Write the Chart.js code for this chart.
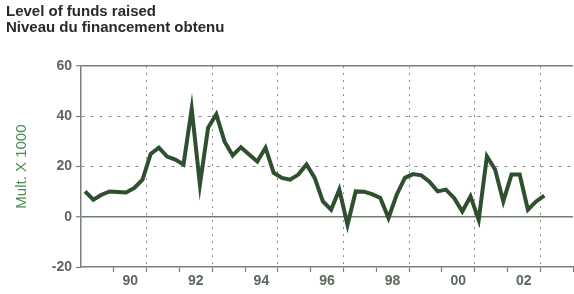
<!DOCTYPE html>
<html><head><meta charset="utf-8">
<script src="https://cdn.jsdelivr.net/npm/chart.js@4"></script>
<style>html,body{margin:0;padding:0;background:#fff}#wrap{width:574px;height:294px;position:relative}</style>
</head><body><div id="wrap"><canvas id="c"></canvas></div>
<script>
const titleLines = ['Level of funds raised', 'Niveau du financement obtenu'];
const yAxisTitle = 'Mult. X 1000';
const quarters = [
  '1989Q1','1989Q2','1989Q3','1989Q4','1990Q1','1990Q2','1990Q3','1990Q4',
  '1991Q1','1991Q2','1991Q3','1991Q4','1992Q1','1992Q2','1992Q3','1992Q4',
  '1993Q1','1993Q2','1993Q3','1993Q4','1994Q1','1994Q2','1994Q3','1994Q4',
  '1995Q1','1995Q2','1995Q3','1995Q4','1996Q1','1996Q2','1996Q3','1996Q4',
  '1997Q1','1997Q2','1997Q3','1997Q4','1998Q1','1998Q2','1998Q3','1998Q4',
  '1999Q1','1999Q2','1999Q3','1999Q4','2000Q1','2000Q2','2000Q3','2000Q4',
  '2001Q1','2001Q2','2001Q3','2001Q4','2002Q1','2002Q2','2002Q3','2002Q4',
  '2003Q1'
];
const fundsRaised = [
  10.1, 6.8, 8.8, 10.1, 9.9, 9.7, 11.5, 14.8,
  25.0, 27.5, 24.0, 22.8, 20.8, 43.0, 12.8, 35.5,
  40.8, 30.0, 24.4, 27.7, 24.8, 22.0, 27.5, 17.5,
  15.5, 14.8, 16.8, 20.8, 15.5, 6.1, 2.8, 10.8,
  -3.2, 10.1, 10.0, 9.0, 7.5, -0.5, 8.8, 15.5,
  17.0, 16.5, 14.0, 10.1, 10.8, 7.5, 2.1, 8.1,
  -1.2, 24.1, 18.8, 6.1, 16.8, 16.8, 2.8, 6.1,
  8.4
];
const labelYears = [1990, 1992, 1994, 1996, 1998, 2000, 2002];
const yearLabels = ['90', '92', '94', '96', '98', '00', '02'];
const gridYears = [1991, 1993, 1995, 1997, 1999, 2001, 2003];
const xRange = [1989, 2004];
const yTicks = [-20, 0, 20, 40, 60];

function quarterPos(q) {
  const yr = parseInt(q.slice(0, 4), 10);
  const qn = parseInt(q.slice(5), 10);
  return yr + (qn - 0.5) / 4;
}
const points = quarters.map((q, i) => ({ x: quarterPos(q), y: fundsRaised[i] }));

const FONT = "'Liberation Sans', Arial, sans-serif";
const TICK_COLOR = '#5d685d';
const AXIS_COLOR = '#7a807a';

new Chart(document.getElementById('c'), {
  type: 'line',
  data: {
    datasets: [{
      data: points,
      borderColor: '#2f4f2f',
      borderWidth: 4,
      pointRadius: 0,
      tension: 0,
      fill: false
    }]
  },
  options: {
    responsive: true,
    maintainAspectRatio: false,
    animation: false,
    layout: { padding: { left: 6, right: 0, top: 0, bottom: 0 } },
    plugins: {
      legend: { display: false },
      tooltip: { enabled: false },
      title: {
        display: true,
        text: titleLines,
        align: 'start',
        color: '#2a2a2a',
        font: { family: FONT, size: 15, weight: 'bold', lineHeight: 1.07 },
        padding: { top: 4, bottom: 30 }
      }
    },
    scales: {
      x: {
        type: 'linear',
        min: xRange[0],
        max: xRange[1],
        afterBuildTicks: (scale) => {
          const t = [];
          for (let v = xRange[0]; v <= xRange[1] + 1e-9; v += 0.5) t.push({ value: v });
          scale.ticks = t;
        },
        afterFit: (scale) => { scale.height = 27; },
        ticks: {
          autoSkip: false,
          maxRotation: 0,
          padding: 1,
          color: TICK_COLOR,
          font: { family: FONT, size: 14, weight: 'bold' },
          callback: (value) => {
            const i = labelYears.indexOf(value - 0.5);
            return i >= 0 ? yearLabels[i] : '';
          }
        },
        grid: {
          drawTicks: true,
          tickLength: 5,
          lineWidth: 1,
          color: (ctx) => (ctx.tick && gridYears.includes(ctx.tick.value)) ? '#8a8a8a' : 'rgba(0,0,0,0)',
          tickColor: (ctx) => (ctx.tick && Number.isInteger(ctx.tick.value) && ctx.tick.value > xRange[0]) ? AXIS_COLOR : 'rgba(0,0,0,0)',
          tickWidth: 1.2
        },
        border: {
          display: true,
          color: AXIS_COLOR,
          width: 1.5,
          dash: (ctx) => ctx.tick ? [2, 5] : []
        }
      },
      y: {
        type: 'linear',
        min: yTicks[0],
        max: yTicks[yTicks.length - 1],
        afterBuildTicks: (scale) => { scale.ticks = yTicks.map(v => ({ value: v })); },
        afterFit: (scale) => { scale.width = 75; },
        ticks: {
          color: TICK_COLOR,
          padding: 4,
          font: { family: FONT, size: 14, weight: 'bold' }
        },
        title: {
          display: true,
          text: yAxisTitle,
          color: '#4c8a52',
          font: { family: FONT, size: 15 },
          padding: { top: 7, bottom: 0 }
        },
        grid: {
          drawTicks: true,
          tickLength: 5,
          lineWidth: (ctx) => (ctx.tick && (ctx.tick.value === 0 || ctx.tick.value === 60)) ? 1.5 : 1,
          color: (ctx) => {
            if (!ctx.tick) return '#8a8a8a';
            const v = ctx.tick.value;
            if (v === 0) return '#6f7f6f';
            if (v === 60) return AXIS_COLOR;
            if (v === -20) return 'rgba(0,0,0,0)';
            return '#8a8a8a';
          },
          tickColor: AXIS_COLOR,
          tickWidth: 1.2
        },
        border: {
          display: true,
          color: AXIS_COLOR,
          width: 1.5,
          dash: (ctx) => (ctx.tick && (ctx.tick.value === 20 || ctx.tick.value === 40)) ? [3, 6] : []
        }
      }
    }
  }
});
</script>
</body></html>
